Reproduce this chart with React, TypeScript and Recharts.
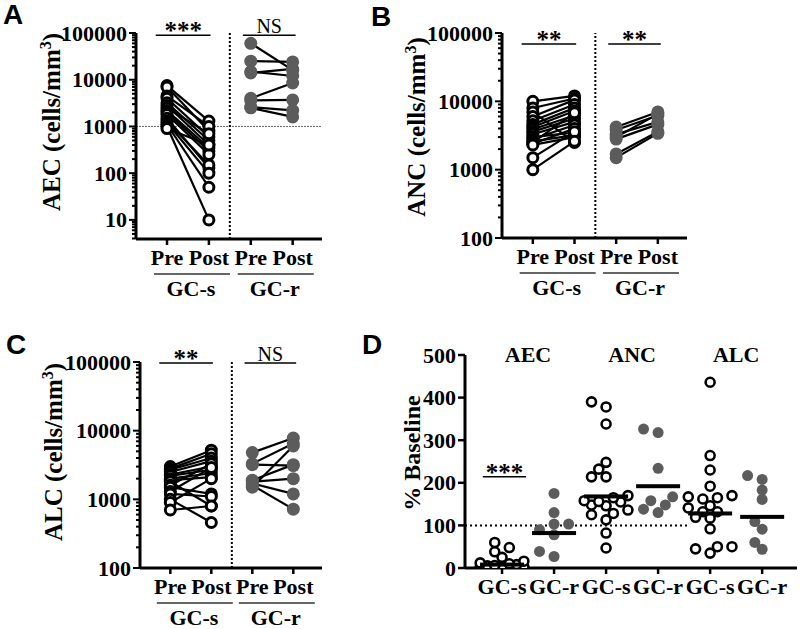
import { ReferenceLine, Scatter, ScatterChart, XAxis, YAxis } from 'recharts'

const SERIF = '"Liberation Serif", "Times New Roman", serif'
const SANS = '"Liberation Sans", Arial, sans-serif'
const GREY = '#5c5c5c'

// axis categories / tick labels
const PAIR_LABELS = ['Pre', 'Post', 'Pre', 'Post']
const GROUP_LABELS = ['GC-s', 'GC-r']
const MAJORS_A = [10, 100, 1000, 10000, 100000]
const MAJORS_BC = [100, 1000, 10000, 100000]
const D_GROUPS = ['AEC', 'ANC', 'ALC']
const D_CATEGORIES = ['GC-s', 'GC-r', 'GC-s', 'GC-r', 'GC-s', 'GC-r']
const D_TICKS = [0, 100, 200, 300, 400, 500]

// A: AEC (cells/mm3), paired pre / post
const AEC_S_PRE = [7500, 7000, 4500, 4000, 3200, 2800, 2500, 2200, 2000, 1800, 1500, 1300, 1200, 1100, 1000, 900]
const AEC_S_POST = [1300, 800, 1000, 600, 500, 400, 700, 350, 300, 250, 130, 150, 100, 50, 10, 400]
const AEC_R_PRE = [60000, 25000, 15000, 14000, 4000, 3600, 2600, 2500]
const AEC_R_POST = [16000, 24000, 12000, 17000, 8500, 3700, 2200, 1600]

// B: ANC
const ANC_S_PRE = [10000, 8000, 7000, 6000, 5200, 4600, 4200, 3900, 3600, 3300, 3000, 2800, 2600, 2500, 2400, 2300, 1500, 1000]
const ANC_S_POST = [12000, 11000, 2500, 10500, 9000, 8000, 7200, 6200, 5600, 5000, 3500, 4500, 3200, 6800, 4000, 3000, 3600, 2600]
const ANC_R_PRE = [4200, 3800, 3300, 3000, 2800, 1700, 1500]
const ANC_R_POST = [7000, 6200, 5000, 6500, 4600, 3600, 3400]

// C: ALC
const ALC_S_PRE = [3000, 2800, 2700, 2500, 2300, 2200, 2000, 1900, 1800, 1600, 1500, 1300, 1200, 1000, 900, 700]
const ALC_S_POST = [5200, 4600, 4000, 3600, 3000, 2700, 2400, 2100, 800, 3300, 1200, 2900, 1100, 460, 2000, 800]
const ALC_R_PRE = [4800, 3300, 3200, 1900, 1800, 1700, 1600, 1500]
const ALC_R_POST = [7800, 6500, 3100, 3200, 2000, 1200, 720, 6000]

// D: % baseline, one list per category (same order as D_CATEGORIES)
const D_AEC_S = [60, 48, 38, 25, 16, 12, 10, 8, 6, 5, 4, 3, 2, 2, 1, 1, 0, 0]
const D_AEC_R = [175, 130, 103, 103, 90, 78, 39, 27]
const D_ANC_S = [390, 378, 338, 248, 232, 214, 214, 170, 165, 158, 156, 155, 148, 146, 136, 128, 125, 113, 82, 47]
const D_ANC_R = [326, 318, 234, 167, 158, 148, 138, 130]
const D_ALC_S = [436, 264, 230, 192, 170, 167, 165, 162, 146, 141, 132, 132, 119, 117, 92, 50, 50, 45, 35]
const D_ALC_R = [217, 208, 183, 161, 109, 91, 60, 44]
const D_CENTER = [8, 82, 168, 192, 128, 120]

const PAIR_DOMAIN: [number, number] = [0.26, 4.7]
const D_DOMAIN: [number, number] = [0.288, 6.67]

function logTicks(lo: number, majors: number[]) {
  const hi = majors[majors.length - 1]
  const out: number[] = []
  for (let d = majors[0] / 10; d < hi; d *= 10)
    for (let k = 1; k < 10; k++) if (d * k >= lo) out.push(d * k)
  out.push(hi)
  return out
}

const isMajor = (v: number) => {
  const l = Math.log10(v)
  return Math.abs(l - Math.round(l)) < 1e-9
}

const LogTick = (props: any) => {
  const { x, y, payload } = props
  const major = isMajor(payload.value)
  return (
    <g>
      <line x1={x - (major ? 7 : 4)} x2={x} y1={y} y2={y} stroke="#000" strokeWidth={2} />
      {major && (
        <text x={x - 9} y={y + 7.5} textAnchor="end" fontFamily={SERIF} fontWeight="bold" fontSize={22} fill="#000">
          {payload.value}
        </text>
      )}
    </g>
  )
}

const LinTick = (props: any) => {
  const { x, y, payload } = props
  return (
    <g>
      <line x1={x - 7} x2={x} y1={y} y2={y} stroke="#000" strokeWidth={2.5} />
      <text x={x - 9} y={y + 7.5} textAnchor="end" fontFamily={SERIF} fontWeight="bold" fontSize={22} fill="#000">
        {payload.value}
      </text>
    </g>
  )
}

const makeCatTick = (labels: string[]) => (props: any) => {
  const { x, y, payload } = props
  return (
    <g>
      <line x1={x} x2={x} y1={y} y2={y + 6} stroke="#000" strokeWidth={2.5} />
      <text x={x} y={y + 26} textAnchor="middle" fontFamily={SERIF} fontWeight="bold" fontSize={22} fill="#000">
        {labels[Math.round(payload.value) - 1]}
      </text>
    </g>
  )
}

const GroupTick = (props: any) => {
  const { x, y, payload } = props
  return (
    <g>
      <line x1={x - 34} x2={x + 42} y1={y + 5} y2={y + 5} stroke="#333" strokeWidth={1.5} />
      <text x={x + 3} y={y + 27} textAnchor="middle" fontFamily={SERIF} fontWeight="bold" fontSize={22} fill="#000">
        {GROUP_LABELS[(payload.value - 1.5) / 2]}
      </text>
    </g>
  )
}

const TopTick = (props: any) => {
  const { x, y, payload } = props
  return (
    <text x={x} y={y + 7} textAnchor="middle" fontFamily={SERIF} fontWeight="bold" fontSize={22} fill="#000">
      {D_GROUPS[(payload.value - 1.5) / 2]}
    </text>
  )
}

const Blank = () => <g />
const OpenDot = (p: any) => <circle cx={p.cx} cy={p.cy} r={5} fill="#fff" stroke="#000" strokeWidth={3} />
const FilledDot = (p: any) => <circle cx={p.cx} cy={p.cy} r={6.5} fill={GREY} />
const OpenDotSm = (p: any) => <circle cx={p.cx} cy={p.cy} r={4.5} fill="#fff" stroke="#000" strokeWidth={2.6} />
const FilledDotSm = (p: any) => <circle cx={p.cx} cy={p.cy} r={5.5} fill={GREY} />
const CenterBar = (p: any) => <rect x={p.cx - 22} y={p.cy - 2} width={44} height={4} fill="#000" />

const sigLabel = (text: string) => (props: any) => {
  const vb = props.viewBox
  const ns = text === 'NS'
  return (
    <text
      x={vb.x + vb.width / 2}
      y={vb.y + (ns ? -2 : 4)}
      textAnchor="middle"
      fontFamily={SERIF}
      fontWeight={ns ? 'normal' : 'bold'}
      fontSize={ns ? 20 : 25}
      fill="#000"
    >
      {text}
    </text>
  )
}

const yLabel = (name: string, lx: number, ly: number, sup: boolean, size = 25) => () => (
  <text
    transform={`translate(${lx},${ly}) rotate(-90)`}
    textAnchor="middle"
    fontFamily={SERIF}
    fontWeight="bold"
    fontSize={size}
    fill="#000"
  >
    {name}
    {sup && (
      <>
        <tspan dy={-9} fontSize={16}>3</tspan>
        <tspan dy={9}>)</tspan>
      </>
    )}
  </text>
)

type Plot = { left: number; right: number; top: number; bottom: number }

type PairPanelProps = {
  left: number
  top: number
  width: number
  height: number
  plot: Plot
  yDomain: [number, number]
  majors: number[]
  label: string
  labelPos: [number, number]
  sPre: number[]
  sPost: number[]
  rPre: number[]
  rPost: number[]
  sig: [string, string]
  sigY: number
  refY?: number
}

function PairPanel(p: PairPanelProps) {
  const ticks = logTicks(p.yDomain[0], p.majors)
  const sPairs = p.sPre.map((v, i) => [{ x: 1, y: v }, { x: 2, y: p.sPost[i] }])
  const rPairs = p.rPre.map((v, i) => [{ x: 3, y: v }, { x: 4, y: p.rPost[i] }])
  const mainH = 30
  return (
    <div style={{ position: 'absolute', left: p.left, top: p.top }}>
      <ScatterChart
        width={p.width}
        height={p.height}
        margin={{ top: p.plot.top, right: p.width - p.plot.right, bottom: 0, left: 0 }}
      >
        <XAxis
          type="number"
          dataKey="x"
          domain={PAIR_DOMAIN}
          allowDataOverflow
          ticks={[1, 2, 3, 4]}
          interval={0}
          height={mainH}
          tickSize={0}
          tickMargin={0}
          tickLine={false}
          tick={makeCatTick(PAIR_LABELS)}
          axisLine={{ stroke: '#000', strokeWidth: 3 }}
        />
        <XAxis
          xAxisId="grp"
          type="number"
          dataKey="x"
          domain={PAIR_DOMAIN}
          allowDataOverflow
          ticks={[1.5, 3.5]}
          interval={0}
          height={p.height - p.plot.bottom - mainH}
          tickSize={0}
          tickMargin={0}
          tickLine={false}
          axisLine={false}
          tick={GroupTick}
        />
        <YAxis
          type="number"
          dataKey="y"
          scale="log"
          domain={p.yDomain}
          allowDataOverflow
          ticks={ticks}
          interval={0}
          width={p.plot.left}
          tickSize={0}
          tickMargin={0}
          tickLine={false}
          tick={LogTick}
          axisLine={{ stroke: '#000', strokeWidth: 3 }}
          label={{ content: yLabel(p.label, p.labelPos[0], p.labelPos[1], true) }}
        />
        {p.refY !== undefined && (
          <ReferenceLine y={p.refY} stroke="#666" strokeWidth={1} strokeDasharray="2 1" />
        )}
        <ReferenceLine x={2.5} stroke="#000" strokeWidth={2} strokeDasharray="2 2" />
        <ReferenceLine
          segment={[{ x: 0.73, y: p.sigY }, { x: 2.04, y: p.sigY }]}
          stroke="#000"
          strokeWidth={1.5}
          ifOverflow="visible"
          label={{ content: sigLabel(p.sig[0]) }}
        />
        <ReferenceLine
          segment={[{ x: 2.81, y: p.sigY }, { x: 4.07, y: p.sigY }]}
          stroke="#000"
          strokeWidth={1.5}
          ifOverflow="visible"
          label={{ content: sigLabel(p.sig[1]) }}
        />
        {[...sPairs, ...rPairs].map((pts, i) => (
          <Scatter
            key={`pair-${i}`}
            data={pts}
            line={{ stroke: '#000', strokeWidth: 2.2 }}
            shape={Blank}
            isAnimationActive={false}
          />
        ))}
        <Scatter data={sPairs.flat()} shape={OpenDot} isAnimationActive={false} />
        <Scatter data={rPairs.flat()} shape={FilledDot} isAnimationActive={false} />
      </ScatterChart>
    </div>
  )
}

// beeswarm spread for panel D so that overlapping points sit side by side
const PX_X = 52
const PX_Y = 213 / 500
const OFFSETS = [0, -0.14, 0.14, -0.28, 0.28, -0.42, 0.42]

function swarm(values: number[], center: number) {
  const placed: { x: number; y: number }[] = []
  const sorted = [...values].sort((a, b) => a - b)
  for (const v of sorted) {
    let best = 0
    let bestD = -1
    for (const o of OFFSETS) {
      const d = placed.reduce(
        (m, q) => Math.min(m, Math.hypot((center + o - q.x) * PX_X, (v - q.y) * PX_Y)),
        Infinity,
      )
      if (d >= 9) {
        best = o
        break
      }
      if (d > bestD) {
        bestD = d
        best = o
      }
    }
    placed.push({ x: center + best, y: v })
  }
  return placed
}

function PanelD() {
  const groups = [D_AEC_S, D_AEC_R, D_ANC_S, D_ANC_R, D_ALC_S, D_ALC_R]
  const open = groups.flatMap((g, i) => (i % 2 === 0 ? swarm(g, i + 1) : []))
  const filled = groups.flatMap((g, i) => (i % 2 === 1 ? swarm(g, i + 1) : []))
  const centers = D_CENTER.map((m, i) => ({ x: i + 1, y: m }))
  return (
    <div style={{ position: 'absolute', left: 400, top: 300 }}>
      <ScatterChart width={400} height={329} margin={{ top: 35, right: 3, bottom: 0, left: 0 }}>
        <XAxis
          type="number"
          dataKey="x"
          domain={D_DOMAIN}
          allowDataOverflow
          ticks={[1, 2, 3, 4, 5, 6]}
          interval={0}
          height={61}
          tickSize={0}
          tickMargin={0}
          tickLine={false}
          tick={makeCatTick(D_CATEGORIES)}
          axisLine={{ stroke: '#000', strokeWidth: 3 }}
        />
        <XAxis
          xAxisId="top"
          orientation="top"
          type="number"
          dataKey="x"
          domain={D_DOMAIN}
          allowDataOverflow
          ticks={[1.5, 3.5, 5.5]}
          interval={0}
          height={20}
          tickSize={0}
          tickMargin={0}
          tickLine={false}
          axisLine={false}
          tick={TopTick}
        />
        <YAxis
          type="number"
          dataKey="y"
          domain={[0, 500]}
          allowDataOverflow
          ticks={D_TICKS}
          interval={0}
          width={65}
          tickSize={0}
          tickMargin={0}
          tickLine={false}
          tick={LinTick}
          axisLine={{ stroke: '#000', strokeWidth: 3 }}
          label={{ content: yLabel('% Baseline', 20, 153, false, 24) }}
        />
        <ReferenceLine
          segment={[{ x: D_DOMAIN[0], y: 100 }, { x: 4.56, y: 100 }]}
          stroke="#000"
          strokeWidth={2}
          strokeDasharray="2 3"
        />
        <ReferenceLine
          segment={[{ x: 0.63, y: 214 }, { x: 1.46, y: 214 }]}
          stroke="#000"
          strokeWidth={1.5}
          label={{ content: sigLabel('***') }}
        />
        <Scatter data={open} shape={OpenDotSm} isAnimationActive={false} />
        <Scatter data={filled} shape={FilledDotSm} isAnimationActive={false} />
        <Scatter data={centers} shape={CenterBar} isAnimationActive={false} />
      </ScatterChart>
    </div>
  )
}

const letterStyle = (left: number, top: number): React.CSSProperties => ({
  position: 'absolute',
  left,
  top,
  fontFamily: SANS,
  fontWeight: 'bold',
  fontSize: 28,
  lineHeight: '28px',
  color: '#000',
})

export default function App() {
  return (
    <div style={{ position: 'absolute', left: 0, top: 0, width: 800, height: 629, background: '#fff' }}>
      <PairPanel
        left={0}
        top={0}
        width={400}
        height={308}
        plot={{ left: 136, right: 322, top: 33, bottom: 239 }}
        yDomain={[3.9, 100000]}
        majors={MAJORS_A}
        label="AEC (cells/mm"
        labelPos={[60, 122]}
        sPre={AEC_S_PRE}
        sPost={AEC_S_POST}
        rPre={AEC_R_PRE}
        rPost={AEC_R_POST}
        sig={['***', 'NS']}
        sigY={90000}
        refY={1000}
      />
      <PairPanel
        left={400}
        top={0}
        width={400}
        height={308}
        plot={{ left: 102, right: 287, top: 33, bottom: 238 }}
        yDomain={[100, 100000]}
        majors={MAJORS_BC}
        label="ANC (cells/mm"
        labelPos={[25, 127]}
        sPre={ANC_S_PRE}
        sPost={ANC_S_POST}
        rPre={ANC_R_PRE}
        rPost={ANC_R_POST}
        sig={['**', '**']}
        sigY={69000}
      />
      <PairPanel
        left={0}
        top={300}
        width={400}
        height={329}
        plot={{ left: 140, right: 322, top: 62, bottom: 268 }}
        yDomain={[100, 100000]}
        majors={MAJORS_BC}
        label="ALC (cells/mm"
        labelPos={[62, 152]}
        sPre={ALC_S_PRE}
        sPost={ALC_S_POST}
        rPre={ALC_R_PRE}
        rPost={ALC_R_POST}
        sig={['**', 'NS']}
        sigY={97000}
      />
      <PanelD />
      <div style={letterStyle(3, 1)}>A</div>
      <div style={letterStyle(371, 3)}>B</div>
      <div style={letterStyle(6, 331)}>C</div>
      <div style={letterStyle(362, 331)}>D</div>
    </div>
  )
}
